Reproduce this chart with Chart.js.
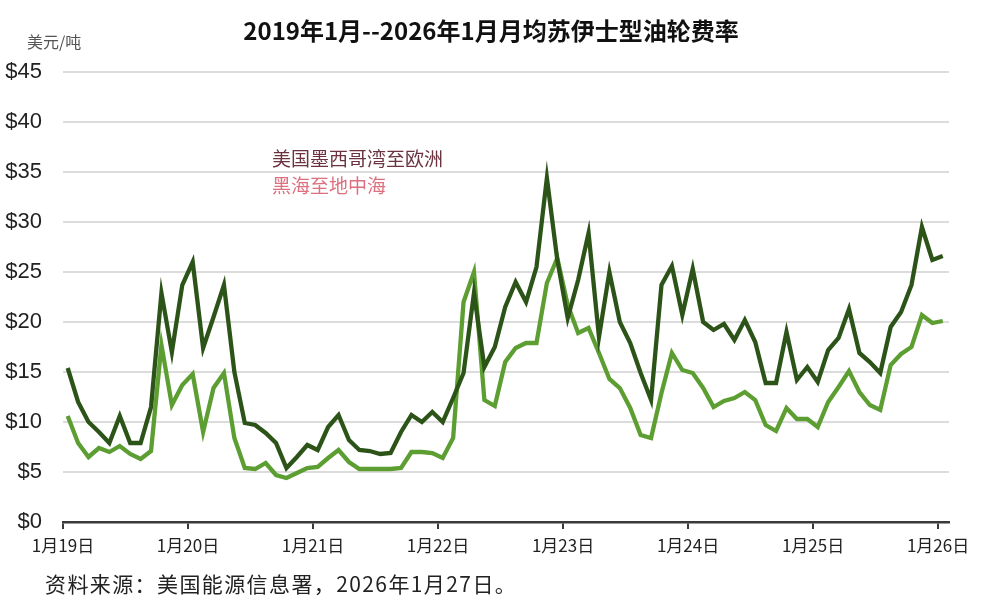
<!DOCTYPE html>
<html>
<head>
<meta charset="utf-8">
<script src="https://cdn.jsdelivr.net/npm/chart.js@4"></script>
<style>
  body { margin: 0; background: #fff; }
  #wrap { position: relative; width: 1000px; height: 616px; background: #fff; overflow: hidden; }
  #tanker-chart { position: absolute; left: 0; top: 0; }
  .txt { position: absolute; white-space: nowrap; font-family: "Noto Sans CJK SC", sans-serif; }
  #title { left: 0; width: 982px; top: 14px; text-align: center; font-size: 24px; font-weight: bold; color: #111; line-height: 32px; }
  #unit { left: 27px; top: 31px; font-size: 16px; color: #555; line-height: 20px; }
  #lab1 { left: 272px; top: 147px; font-size: 19px; color: #6b3340; line-height: 22px; }
  #lab2 { left: 272px; top: 174px; font-size: 19px; color: #de6f7e; line-height: 22px; }
  #source { left: 45px; top: 570px; font-size: 21px; letter-spacing: 1.4px; color: #222; line-height: 26px; }
</style>
</head>
<body>
<div id="wrap">
  <canvas id="tanker-chart" width="1000" height="616"></canvas>
  <div class="txt" id="title">2019年1月--2026年1月月均苏伊士型油轮费率</div>
  <div class="txt" id="unit">美元/吨</div>
  <div class="txt" id="lab1">美国墨西哥湾至欧洲</div>
  <div class="txt" id="lab2">黑海至地中海</div>
  <div class="txt" id="source">资料来源：美国能源信息署，2026年1月27日。</div>
</div>
<script>
// tick labels, one per January
const yearLabels = ['1月19日', '1月20日', '1月21日', '1月22日', '1月23日', '1月24日', '1月25日', '1月26日'];

// monthly averages, Jan 2019 .. Jan 2026 (USD / ton)
const gulfToEurope = [
    15.4, 12.0, 10.0, 9.0, 7.9, 10.6, 7.9, 7.9, 11.5, 22.9, 17.0, 23.7,
    26.0, 17.4, 20.5, 23.7, 15.0, 9.9, 9.7, 8.9, 7.9, 5.4, 6.5, 7.7,
    7.2, 9.5, 10.7, 8.2, 7.2, 7.1, 6.8, 6.9, 9.0, 10.7, 10.0, 11.0,
    10.0, 12.4, 14.9, 22.9, 15.5, 17.5, 21.5, 24.0, 22.0, 25.5, 34.4, 26.2,
    20.4, 24.2, 28.9, 18.5, 25.0, 20.0, 17.9, 14.9, 12.2, 23.7, 25.6, 20.7,
    25.3, 20.0, 19.2, 19.8, 18.2, 20.2, 18.0, 13.9, 13.9, 19.0, 14.2, 15.5,
    14.0, 17.2, 18.4, 21.3, 16.9, 16.0, 14.9, 19.5, 21.0, 23.7, 29.5, 26.2,
    26.6
];
const blackSeaToMed = [
    10.6, 7.9, 6.5, 7.4, 7.0, 7.6, 6.8, 6.3, 7.1, 17.7, 11.7, 13.7,
    14.8, 9.0, 13.4, 14.9, 8.4, 5.4, 5.3, 5.9, 4.7, 4.4, 4.9, 5.4,
    5.5, 6.4, 7.2, 6.0, 5.3, 5.3, 5.3, 5.3, 5.4, 7.0, 7.0, 6.9,
    6.4, 8.4, 22.0, 25.0, 12.2, 11.6, 16.0, 17.4, 17.9, 17.9, 23.9, 26.4,
    21.7, 18.9, 19.4, 16.9, 14.3, 13.4, 11.4, 8.7, 8.4, 12.9, 16.9, 15.2,
    14.9, 13.4, 11.5, 12.1, 12.4, 13.0, 12.2, 9.7, 9.1, 11.4, 10.3, 10.3,
    9.5, 12.0, 13.5, 15.1, 13.0, 11.7, 11.2, 15.7, 16.8, 17.5, 20.7, 19.9,
    20.1
];

// points sit a bit after the January tick (monthly average)
const monthOffset = 0.45;
function toPoints(values) {
    return values.map((v, i) => ({ x: i + monthOffset, y: v }));
}

const ctx = document.getElementById('tanker-chart').getContext('2d');
new Chart(ctx, {
    type: 'line',
    data: {
        datasets: [{
            label: '美国墨西哥湾至欧洲',
            data: toPoints(gulfToEurope),
            borderColor: '#2d5418',
            borderWidth: 4.3,
            pointRadius: 0,
            tension: 0
        }, {
            label: '黑海至地中海',
            data: toPoints(blackSeaToMed),
            borderColor: '#5c9e31',
            borderWidth: 4.3,
            pointRadius: 0,
            tension: 0
        }]
    },
    options: {
        responsive: false,
        animation: false,
        layout: { padding: { left: 0, right: 51, top: 72, bottom: 0 } },
        plugins: {
            legend: { display: false },
            tooltip: { enabled: false },
            title: { display: false }
        },
        scales: {
            x: {
                type: 'linear',
                min: 0,
                max: 85.05,
                afterBuildTicks: scale => {
                    scale.ticks = yearLabels.map((_, k) => ({ value: k * 12 }));
                },
                afterFit: scale => { scale.height = 94; },
                ticks: {
                    autoSkip: false,
                    maxRotation: 0,
                    padding: 6,
                    color: '#222',
                    font: { family: '"Noto Sans CJK SC", sans-serif', size: 17 },
                    callback: value => yearLabels[Math.round(value / 12)]
                },
                grid: {
                    drawOnChartArea: false,
                    drawTicks: true,
                    tickLength: 7,
                    color: '#3a3a3a',
                    lineWidth: 2
                },
                border: { display: true, color: '#3a3a3a', width: 2.5 }
            },
            y: {
                min: 0,
                max: 45,
                afterFit: scale => { scale.width = 63; },
                ticks: {
                    stepSize: 5,
                    padding: 21,
                    color: '#222',
                    font: { family: '"Liberation Sans", Arial, sans-serif', size: 22 },
                    callback: value => '$' + value
                },
                grid: {
                    drawTicks: false,
                    color: '#dcdcdc',
                    lineWidth: 2
                },
                border: { display: false }
            }
        }
    }
});
</script>
</body>
</html>
